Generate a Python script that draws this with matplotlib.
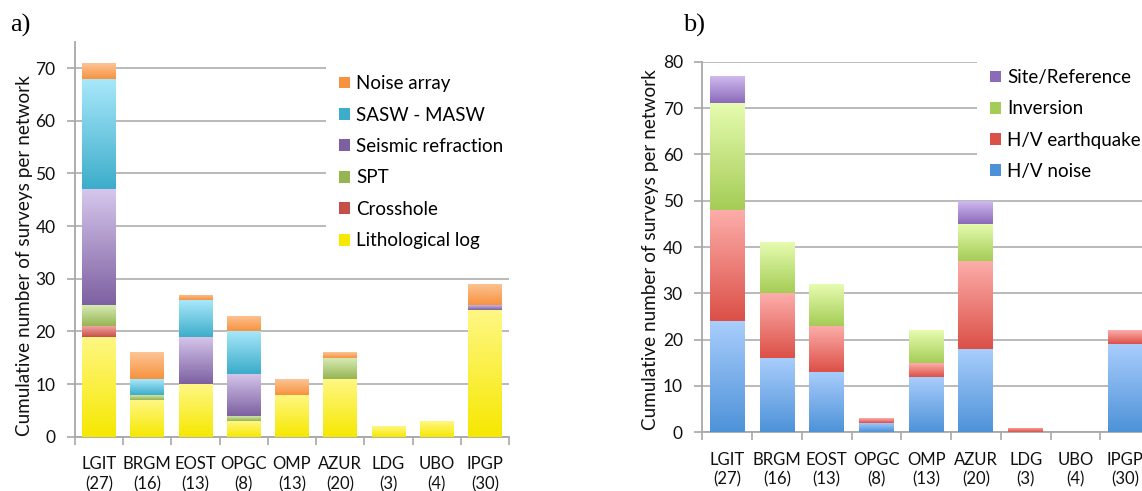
import numpy as np
import matplotlib
matplotlib.use("Agg")
import matplotlib.pyplot as plt
from matplotlib.colors import LinearSegmentedColormap
from matplotlib.patches import Patch

# ---------------- data ----------------
networks = ["LGIT", "BRGM", "EOST", "OPGC", "OMP", "AZUR", "LDG", "UBO", "IPGP"]
station_counts = [27, 16, 13, 8, 13, 20, 3, 4, 30]

# panel a (stack order bottom -> top)
a_names = ["Lithological log", "Crosshole", "SPT", "Seismic refraction", "SASW - MASW", "Noise array"]
litho_log = [19, 7, 10, 3, 8, 11, 2, 3, 24]
crosshole = [2, 0, 0, 0, 0, 0, 0, 0, 0]
spt = [4, 1, 0, 1, 0, 4, 0, 0, 0]
seismic_refraction = [22, 0, 9, 8, 0, 0, 0, 0, 1]
sasw_masw = [21, 3, 7, 8, 0, 0, 0, 0, 0]
noise_array = [3, 5, 1, 3, 3, 1, 0, 0, 4]

# panel b (stack order bottom -> top)
b_names = ["H/V noise", "H/V earthquake", "Inversion", "Site/Reference"]
hv_noise = [24, 16, 13, 2, 12, 18, 0, 0, 19]
hv_earthquake = [24, 14, 10, 1, 3, 19, 1, 0, 3]
inversion = [23, 11, 9, 0, 7, 8, 0, 0, 0]
site_reference = [6, 0, 0, 0, 0, 5, 0, 0, 0]

# colours (bottom shade, top shade)
a_colors = [("#f6e800", "#fff784"),
            ("#c74e49", "#f2a4a1"),
            ("#95b553", "#daedb8"),
            ("#7d60a1", "#d6c7ec"),
            ("#3cadca", "#aae8fb"),
            ("#f7923f", "#fcc595")]
b_colors = [("#4d92d8", "#aacefd"),
            ("#db5047", "#fdaeab"),
            ("#a5cc56", "#e6fcb0"),
            ("#8b6aba", "#d2bdf1")]

W, H = 1142, 491
FONT = "Lato"
plt.rcParams["font.family"] = [FONT, "DejaVu Sans"]

fig = plt.figure(figsize=(W / 100, H / 100), dpi=100)
ax1 = fig.add_axes([75 / W, (H - 436.7) / H, 434 / W, 395 / H])
ax2 = fig.add_axes([702.3 / W, (H - 432.3) / H, 447.7 / W, 370.6 / H])

GRID = "#b4b4b4"
SPINE = "#a8a8a8"


def gradient_bars(ax, series, colors, names, width=0.70):
    x = np.arange(len(networks))
    bottom = np.zeros(len(networks))
    handles = []
    for vals, (c0, c1), name in zip(series, colors, names):
        vals = np.asarray(vals, dtype=float)
        bars = ax.bar(x, vals, width, bottom=bottom, color=c0, linewidth=0, zorder=2)
        cmap = LinearSegmentedColormap.from_list(name, [c0, c1])
        grad = np.linspace(0, 1, 256).reshape(-1, 1)
        for p in bars.patches:
            if p.get_height() <= 0:
                continue
            x0, y0 = p.get_x(), p.get_y()
            im = ax.imshow(grad, cmap=cmap, origin="lower", aspect="auto",
                           extent=(x0, x0 + p.get_width(), y0, y0 + p.get_height()),
                           zorder=3, interpolation="bilinear")
            im.set_clip_path(p)
        bottom += vals
        handles.append(Patch(facecolor=c0, edgecolor="none", label=name))
    return handles


def style_axis(ax, ymax, yticks):
    ax.set_xlim(-0.5, len(networks) - 0.5)
    ax.set_ylim(0, ymax)
    ax.set_yticks(yticks)
    ax.set_xticks(np.arange(len(networks)))
    ax.set_xticklabels([f"{n}\n({c})" for n, c in zip(networks, station_counts)],
                       linespacing=1.28)
    ax.set_xticks(np.arange(len(networks) + 1) - 0.5, minor=True)
    ax.tick_params(axis="x", which="major", length=0, pad=14, labelsize=12,
                   labelcolor="#111111")
    ax.tick_params(axis="x", which="minor", length=6, width=1.2, color=SPINE)
    ax.tick_params(axis="y", length=6, width=1.2, color=SPINE, pad=8,
                   labelsize=12.5, labelcolor="#111111")
    ax.grid(axis="y", color=GRID, linewidth=1.3, zorder=0)
    ax.set_axisbelow(True)
    for s in ("top", "right"):
        ax.spines[s].set_visible(False)
    for s in ("left", "bottom"):
        ax.spines[s].set_color(SPINE)
        ax.spines[s].set_linewidth(1.3)


# panel a
h1 = gradient_bars(ax1, [litho_log, crosshole, spt, seismic_refraction, sasw_masw, noise_array],
                   a_colors, a_names)
style_axis(ax1, 75, np.arange(0, 71, 10))
# panel b
h2 = gradient_bars(ax2, [hv_noise, hv_earthquake, inversion, site_reference],
                   b_colors, b_names)
style_axis(ax2, 80, np.arange(0, 81, 10))

ylab = "Cumulative number of surveys per network"
fig.text(25 / W, 1 - 256 / H, ylab, rotation=90, ha="center", va="center", fontsize=13.6,
         color="#111111")
fig.text(651 / W, 1 - 250 / H, ylab, rotation=90, ha="center", va="center", fontsize=13.6,
         color="#111111")

fig.text(10 / W, 1 - 25 / H, "a)", fontsize=19, family="Liberation Serif", va="center", ha="left")
fig.text(683 / W, 1 - 25 / H, "b)", fontsize=19, family="Liberation Serif", va="center", ha="left")

leg_kw = dict(frameon=True, facecolor="white", edgecolor="none", framealpha=1,
              fontsize=13.5, handlelength=0.6, handleheight=0.6, handletextpad=0.3,
              borderaxespad=0, fancybox=False)
l1 = ax1.legend(h1[::-1], a_names[::-1], loc="upper left",
                bbox_to_anchor=(326 / W, 1 - 62 / H), bbox_transform=fig.transFigure,
                labelspacing=0.77, borderpad=0.7, **leg_kw)
l1.set_zorder(5)
l2 = ax2.legend(h2[::-1], b_names[::-1], loc="upper left",
                bbox_to_anchor=(977 / W, 1 - 56 / H), bbox_transform=fig.transFigure,
                labelspacing=0.76, borderpad=0.7, **leg_kw)
l2.set_zorder(5)

fig.savefig("out.png", dpi=100)
